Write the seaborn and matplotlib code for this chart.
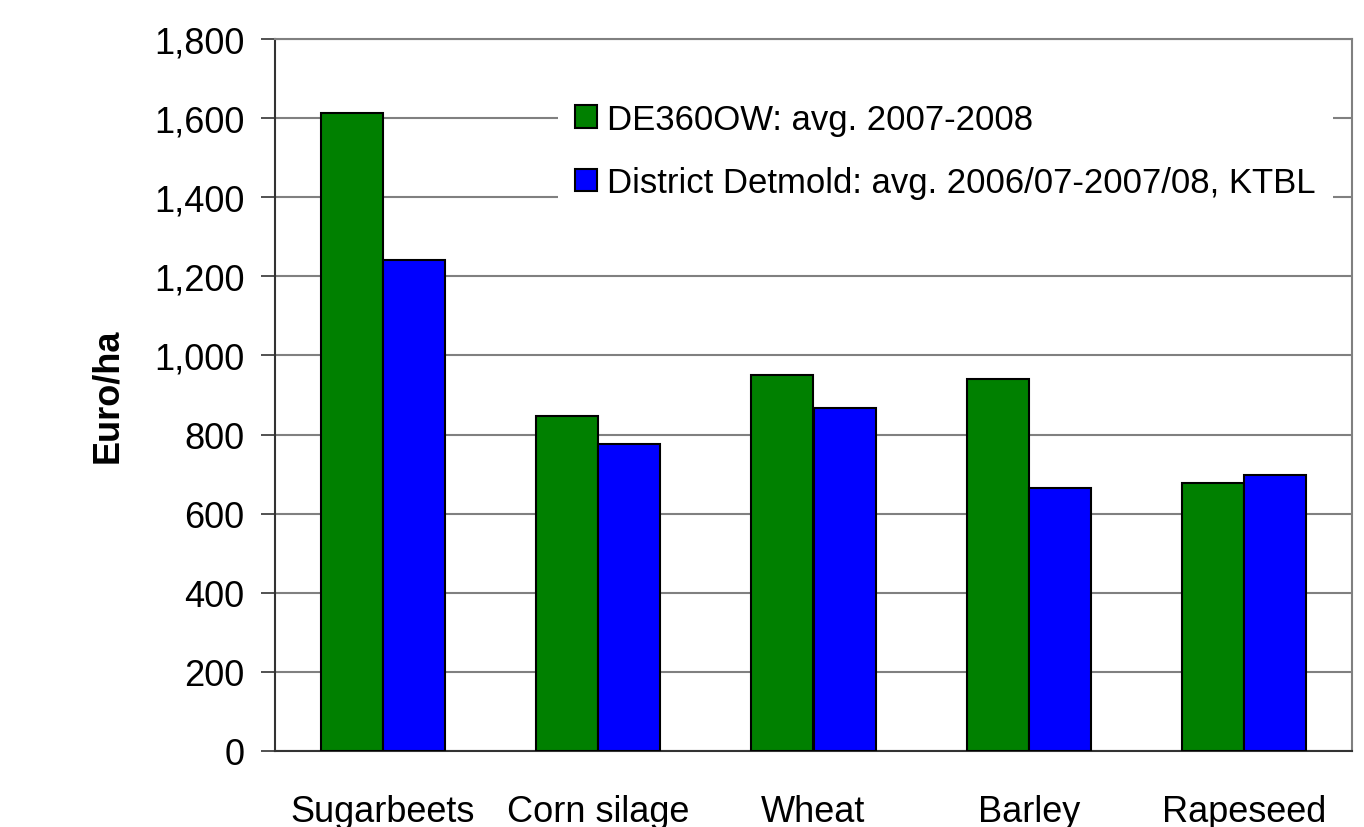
import matplotlib
matplotlib.use("Agg")
import matplotlib.pyplot as plt
import seaborn as sns
import pandas as pd
from matplotlib.ticker import FixedLocator, FuncFormatter

# Gross margins per crop (Euro/ha)
crops = ["Sugarbeets", "Corn silage", "Wheat", "Barley", "Rapeseed"]
series_names = ["DE360OW: avg. 2007-2008",
                "District Detmold: avg. 2006/07-2007/08, KTBL"]
de360ow = [1613, 846, 950, 941, 677]
detmold = [1242, 776, 867, 666, 698]
colors = ["#008000", "#0000FF"]

df = pd.DataFrame({
    "crop": crops * 2,
    "series": [series_names[0]] * len(crops) + [series_names[1]] * len(crops),
    "value": de360ow + detmold,
})

sns.set_style("white")
plt.rcParams["font.family"] = ["Liberation Sans", "DejaVu Sans"]
plt.rcParams["text.color"] = "black"
plt.rcParams["xtick.color"] = "black"
plt.rcParams["ytick.color"] = "black"
plt.rcParams["axes.labelcolor"] = "black"

fig = plt.figure(figsize=(13.64, 8.28), dpi=100)
ax = fig.add_axes([275 / 1364, 1 - 752 / 828, 1077 / 1364, 712 / 828])

sns.barplot(data=df, x="crop", y="value", hue="series", order=crops,
            hue_order=series_names, palette=colors, width=0.576,
            edgecolor="black", linewidth=1.5, saturation=1, ax=ax,
            zorder=3)

ax.set_ylim(0, 1800)
ax.set_xlim(-0.5, len(crops) - 0.5)
ax.set_yticks(range(0, 1801, 200))
ax.yaxis.set_major_formatter(FuncFormatter(lambda v, _: f"{int(v):,}"))
ax.yaxis.grid(True, color="#808080", linewidth=1.5, zorder=0)
ax.set_axisbelow(True)

# category labels centred, tick marks on the group boundaries
ax.xaxis.set_minor_locator(FixedLocator([i - 0.5 for i in range(len(crops) + 1)]))
ax.tick_params(axis="x", which="major", length=0, pad=31, labelsize=26,
               labelcolor="black")
ax.tick_params(axis="x", which="minor", length=10, width=1.2, color="#333333",
               direction="out")
ax.tick_params(axis="y", length=10, width=1.2, color="#333333", direction="out",
               pad=12, labelsize=26, left=True, labelcolor="black")

for side in ("top", "right"):
    ax.spines[side].set_color("#808080")
    ax.spines[side].set_linewidth(1.5)
for side in ("left", "bottom"):
    ax.spines[side].set_color("#333333")
    ax.spines[side].set_linewidth(1.5)

ax.set_xlabel("")
ax.set_ylabel("Euro/ha", fontsize=26, fontweight="bold", labelpad=21,
              color="black")

leg = ax.legend(loc="upper left", bbox_to_anchor=(0.2625, 0.935),
                borderaxespad=0, fontsize=25, frameon=True, fancybox=False,
                framealpha=1, facecolor="white", edgecolor="none",
                handlelength=0.62, handleheight=0.62, handletextpad=0.3,
                labelspacing=0.88, borderpad=0.5)
leg.set_zorder(5)
for t in leg.get_texts():
    t.set_color("black")

fig.savefig("out.png", dpi=100)
